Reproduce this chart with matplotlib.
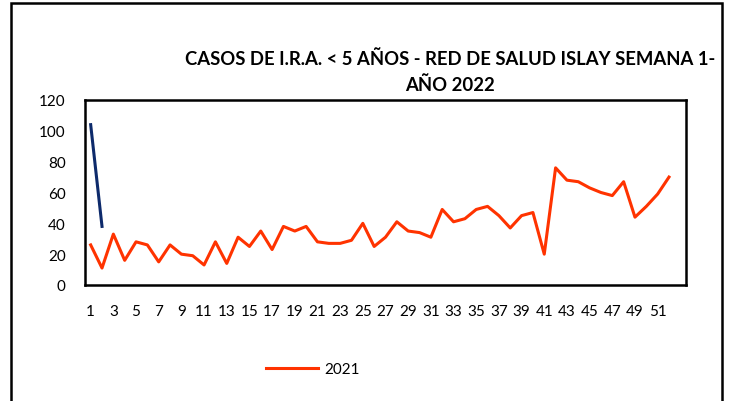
import matplotlib.pyplot as plt
from matplotlib.lines import Line2D
from matplotlib.patches import Rectangle

plt.rcParams["font.family"] = ["Lato", "DejaVu Sans"]

# semanas epidemiologicas
weeks_2021 = list(range(1, 53))
cases_2021 = [26, 11, 33, 16, 28, 26, 15, 26, 20, 19, 13, 28, 14, 31, 25, 35,
              23, 38, 35, 38, 28, 27, 27, 29, 40, 25, 31, 41, 35, 34, 31, 49,
              41, 43, 49, 51, 45, 37, 45, 47, 20, 76, 68, 67, 63, 60, 58, 67,
              44, 51, 59, 70]
weeks_2022 = [1, 2]
cases_2022 = [104, 38]
tick_weeks = list(range(1, 52, 2))

title = "CASOS DE I.R.A. < 5 AÑOS - RED DE SALUD ISLAY SEMANA 1-\nAÑO 2022"

fig = plt.figure(figsize=(7.32, 4.02), dpi=100)
ax = fig.add_axes([85 / 732, 1 - 286 / 402, 601 / 732, 185 / 402])

ax.plot(weeks_2021, cases_2021, color="#FF3300", lw=2.2)
ax.plot(weeks_2022, cases_2022, color="#0D2A6B", lw=2.2)

ax.set_xlim(0.5, 53.5)
ax.set_ylim(0, 120)
ax.set_yticks(range(0, 121, 20))
ax.set_xticks(tick_weeks)
ax.tick_params(length=0, labelsize=11, pad=14)
ax.tick_params(axis="y", pad=14)
for s in ax.spines.values():
    s.set_linewidth(1.8)
    s.set_color("black")

fig.text(450 / 732, 1 - 72 / 402, title, ha="center", va="center",
         fontsize=13.3, fontweight="bold", linespacing=1.5)

handle = Line2D([], [], color="#FF3300", lw=2.2)
fig.legend([handle], ["2021"], loc="center", frameon=False, fontsize=11,
           bbox_to_anchor=(313 / 732, 1 - 370 / 402), handlelength=3.4,
           handletextpad=0.4)

# marco exterior
fig.patches.append(Rectangle((11 / 732, -0.05), 711 / 732, 1.05 - 4 / 402,
                             transform=fig.transFigure, fill=False,
                             edgecolor="black", lw=1.8))

fig.savefig("out.png", dpi=100)
